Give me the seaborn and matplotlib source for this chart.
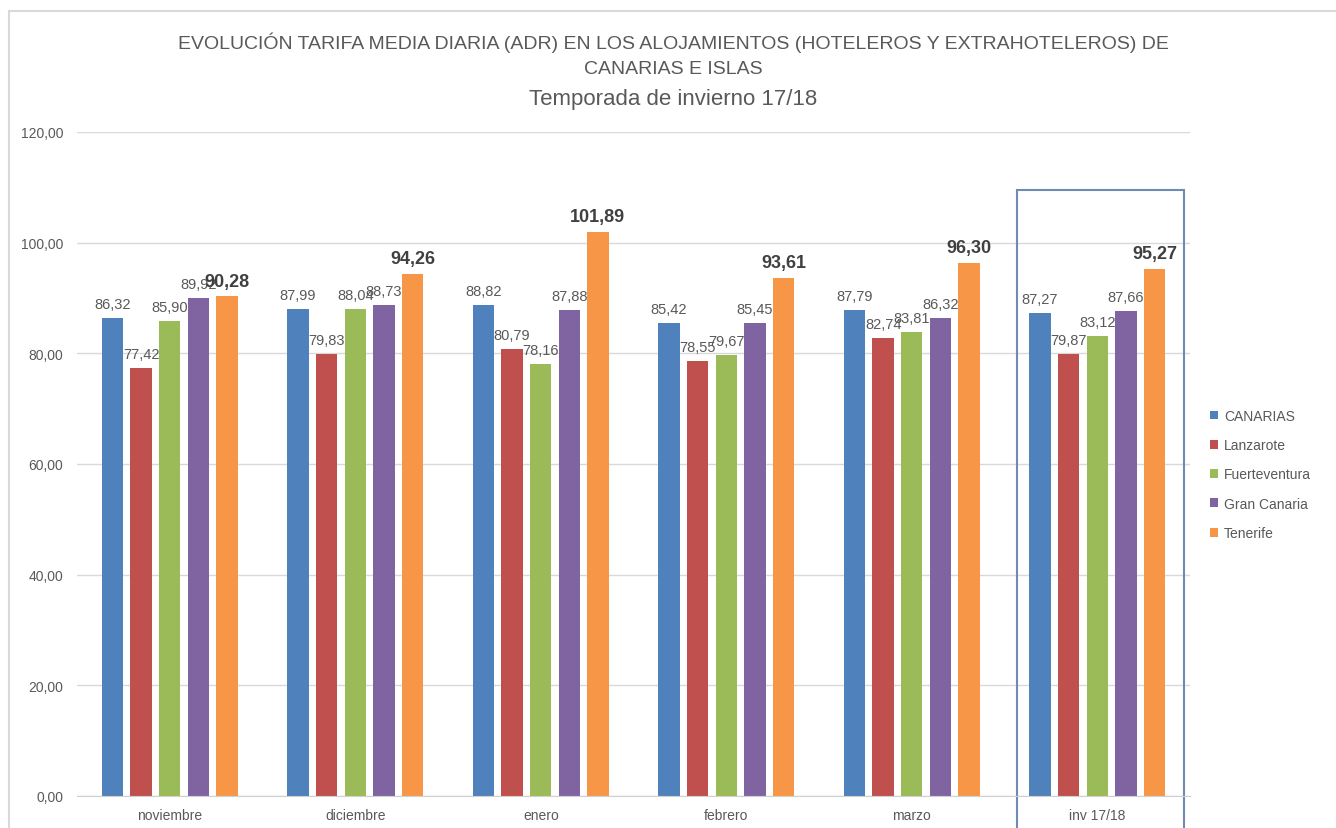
import pandas as pd
import matplotlib
matplotlib.use("Agg")
import matplotlib.pyplot as plt
import seaborn as sns
from matplotlib.patches import Rectangle

# ---------------------- Data ---------------------- #

months = ['noviembre', 'diciembre', 'enero', 'febrero', 'marzo', 'inv 17/18']
islands = ['CANARIAS', 'Lanzarote', 'Fuerteventura', 'Gran Canaria', 'Tenerife']

canarias = [86.32, 87.99, 88.82, 85.42, 87.79, 87.27]
lanzarote = [77.42, 79.83, 80.79, 78.55, 82.74, 79.87]
fuerteventura = [85.90, 88.04, 78.16, 79.67, 83.81, 83.12]
gran_canaria = [89.92, 88.73, 87.88, 85.45, 86.32, 87.66]
tenerife = [90.28, 94.26, 101.89, 93.61, 96.30, 95.27]

colors = ['#4f81bd', '#c0504d', '#9bbb59', '#8064a2', '#f79646']

y_ticks = [0, 20, 40, 60, 80, 100, 120]

title_lines = ['EVOLUCIÓN TARIFA MEDIA DIARIA (ADR) EN LOS ALOJAMIENTOS (HOTELEROS Y EXTRAHOTELEROS) DE',
               'CANARIAS E ISLAS',
               'Temporada de invierno 17/18']


def build_frame():
    series = [canarias, lanzarote, fuerteventura, gran_canaria, tenerife]
    rows = []
    for island, values in zip(islands, series):
        for month, v in zip(months, values):
            rows.append({'mes': month, 'isla': island, 'adr': v})
    return pd.DataFrame(rows)


def comma(v):
    return f"{v:.2f}".replace('.', ',')


# ---------------------- Plot ---------------------- #

def main():
    df = build_frame()

    sns.set_style('white')
    plt.rcParams['font.family'] = ['Liberation Sans', 'DejaVu Sans']
    grey = '#595959'

    fig = plt.figure(figsize=(13.36, 8.29), dpi=100)
    ax = fig.add_axes([77 / 1336, 1 - 797 / 829, 1113 / 1336, 664 / 829])

    sns.barplot(data=df, x='mes', y='adr', hue='isla', order=months,
                hue_order=islands, palette=colors, width=0.77, gap=0.25,
                saturation=1, edgecolor='none', ax=ax)

    ax.set_ylim(0, 120)
    ax.set_xlim(-0.5, 5.5)
    ax.set_yticks(y_ticks)
    ax.set_yticklabels([comma(t) for t in y_ticks])
    ax.yaxis.grid(True, color='#d9d9d9', linewidth=1)
    ax.set_axisbelow(True)
    for side in ['top', 'right', 'left']:
        ax.spines[side].set_visible(False)
    ax.spines['bottom'].set_color('#d0d0d0')
    ax.tick_params(axis='both', length=0, labelsize=10, labelcolor=grey)
    ax.tick_params(axis='y', pad=10)
    ax.tick_params(axis='x', pad=9)
    ax.set_xlabel('')
    ax.set_ylabel('')

    # value labels
    for i, cont in enumerate(ax.containers):
        vals = [b.get_height() for b in cont]
        if i == len(ax.containers) - 1:
            ax.bar_label(cont, labels=[comma(v) for v in vals], padding=5,
                         fontsize=13, fontweight='bold', color='#404040')
        else:
            ax.bar_label(cont, labels=[comma(v) for v in vals], padding=5,
                         fontsize=10.5, color=grey)

    # highlight box around the season total
    ax.add_patch(Rectangle((4.57, -6), 0.9, 115.6, fill=False,
                           edgecolor='#6f8bb0', linewidth=1.5, clip_on=False))

    # legend
    ax.legend(loc='center left', bbox_to_anchor=(1210 / 1336, 1 - 475.5 / 829),
              bbox_transform=fig.transFigure, frameon=False, fontsize=10,
              labelcolor=grey, handlelength=0.6, handleheight=0.6,
              handletextpad=0.4, labelspacing=1.1, borderaxespad=0, borderpad=0)

    # title, one line at a time
    for text, ypix, size in zip(title_lines, [43, 70, 99], [14, 14, 16]):
        fig.text(673 / 1336, 1 - ypix / 829, text, ha='center', va='center',
                 fontsize=size, color=grey)

    # outer chart frame
    fig.add_artist(Rectangle((9 / 1336, -0.1), 1.2, (829 - 12) / 829 + 0.1,
                             transform=fig.transFigure, fill=False,
                             edgecolor='#d9d9d9', linewidth=1.5))

    fig.savefig('out.png', dpi=100)


if __name__ == "__main__":
    main()
